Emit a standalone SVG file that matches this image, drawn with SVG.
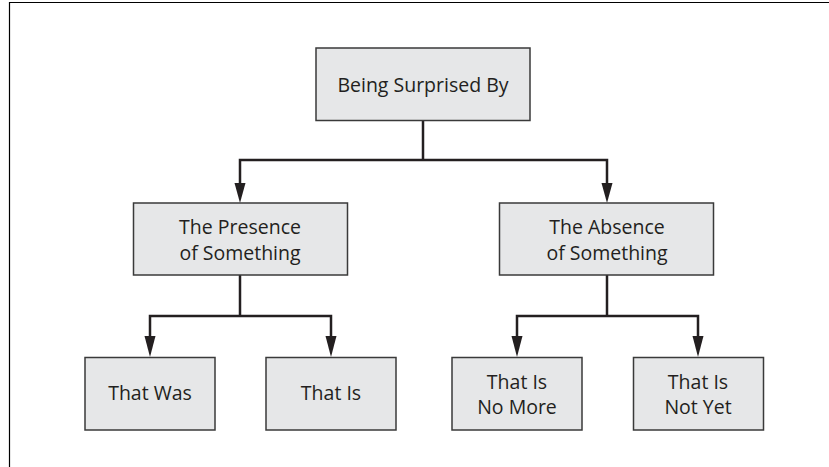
<svg xmlns="http://www.w3.org/2000/svg" width="829" height="467" viewBox="0 0 829 467">
<defs>
<style>
.box{fill:#e6e7e8;stroke:#3a3a3a;stroke-width:1.5}
.lbl{font-family:"Open Sans","Noto Sans",sans-serif;font-size:19.5px;fill:#231f20;text-anchor:middle}
.conn{fill:none;stroke:#231f20;stroke-width:2.5}
.ah{fill:#231f20}
</style>
</defs>
<rect width="829" height="467" fill="#fff"/>
<path d="M9.5,467 V2.5 H829" fill="none" stroke="#000" stroke-width="1.2"/>
<g id="connectors">
<path class="conn" d="M423,121 V160"/>
<path class="conn" d="M240,185 V160 H607 V185"/>
<path class="conn" d="M240,275 V316"/>
<path class="conn" d="M150,338 V316 H331 V338"/>
<path class="conn" d="M607,275 V316"/>
<path class="conn" d="M517,338 V316 H698 V338"/>
<polygon class="ah" points="234.5,183 245.5,183 240,203"/>
<polygon class="ah" points="601.5,183 612.5,183 607,203"/>
<polygon class="ah" points="144.5,336 155.5,336 150,357"/>
<polygon class="ah" points="325.5,336 336.5,336 331,357"/>
<polygon class="ah" points="511.5,336 522.5,336 517,357"/>
<polygon class="ah" points="692.5,336 703.5,336 698,357"/>
</g>
<g id="root">
<rect class="box" x="316" y="48" width="214" height="72.5"/>
<text class="lbl" x="423" y="91.5">Being Surprised By</text>
</g>
<g id="presence">
<rect class="box" x="133.5" y="203" width="214" height="72"/>
<text class="lbl" x="240" y="233.5">The Presence</text>
<text class="lbl" x="240" y="260">of Something</text>
</g>
<g id="absence">
<rect class="box" x="499.5" y="203" width="214" height="72"/>
<text class="lbl" x="607" y="233.5">The Absence</text>
<text class="lbl" x="607" y="260">of Something</text>
</g>
<g id="thatwas">
<rect class="box" x="85" y="357.5" width="130" height="72.5"/>
<text class="lbl" x="150" y="400">That Was</text>
</g>
<g id="thatis">
<rect class="box" x="266" y="357.5" width="130" height="72.5"/>
<text class="lbl" x="331" y="400">That Is</text>
</g>
<g id="nomore">
<rect class="box" x="452" y="357.5" width="130" height="72.5"/>
<text class="lbl" x="517" y="388.5">That Is</text>
<text class="lbl" x="517" y="414">No More</text>
</g>
<g id="notyet">
<rect class="box" x="633.5" y="357.5" width="130" height="72.5"/>
<text class="lbl" x="698" y="388.5">That Is</text>
<text class="lbl" x="698" y="414">Not Yet</text>
</g>
</svg>
